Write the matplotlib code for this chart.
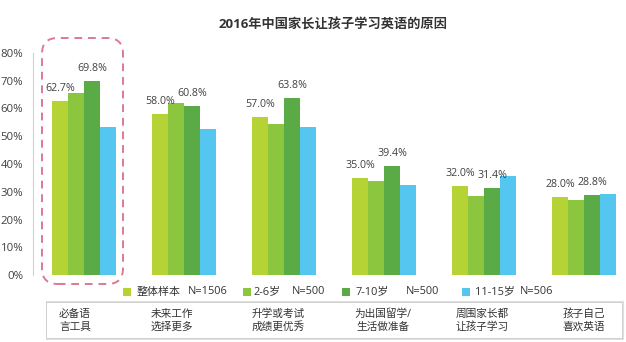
import matplotlib
matplotlib.use("Agg")
import matplotlib.pyplot as plt
from matplotlib.patches import Rectangle, FancyBboxPatch
import numpy as np

plt.rcParams['font.family'] = ['Open Sans', 'Noto Sans CJK SC', 'DejaVu Sans']

title = "2016年中国家长让孩子学习英语的原因"
categories = ["必备语\n言工具", "未来工作\n选择更多", "升学或考试\n成绩更优秀",
              "为出国留学/\n生活做准备", "周围家长都\n让孩子学习", "孩子自己\n喜欢英语"]
series_names = ["整体样本", "2-6岁", "7-10岁", "11-15岁"]
series_n = ["N=1506", "N=500", "N=500", "N=506"]
total = [62.7, 58.0, 57.0, 35.0, 32.0, 28.0]
age_2_6 = [65.6, 62.0, 54.4, 33.9, 28.5, 27.0]
age_7_10 = [69.8, 60.8, 63.8, 39.4, 31.4, 28.8]
age_11_15 = [53.3, 52.6, 53.3, 32.4, 35.7, 29.2]
labeled_series = [0, 2]
yticks = [0, 10, 20, 30, 40, 50, 60, 70, 80]

series = [total, age_2_6, age_7_10, age_11_15]
colors = ["#b5d334", "#8cc63f", "#5aab46", "#55c6f0"]

W, H = 626, 342
fig = plt.figure(figsize=(W / 100, H / 100), dpi=100)

def fx(x):
    return x / W

def fy(y):
    return 1 - y / H

ax = fig.add_axes([fx(33), fy(275), fx(626) - fx(33), fy(53) - fy(275)])
x = np.arange(len(categories))
offsets = [-0.24, -0.08, 0.08, 0.24]
for i, vals in enumerate(series):
    bars = ax.bar(x + offsets[i], vals, width=0.16, color=colors[i], linewidth=0)
    if i in labeled_series:
        for b, v in zip(bars, vals):
            ax.annotate(f"{v:.1f}%", (b.get_x() + b.get_width() / 2, v),
                        xytext=(0, 5), textcoords="offset points",
                        ha="center", va="bottom", fontsize=7.7, color="#404040")

ax.set_xlim(-0.51, 5.42)
ax.set_ylim(0, 80)
ax.set_yticks(yticks)
ax.set_yticklabels([f"{t}%" for t in yticks], fontsize=8.2, color="#404040")
ax.tick_params(axis="y", length=0, pad=7)
ax.set_xticks([])
for s in ["top", "right", "bottom"]:
    ax.spines[s].set_visible(False)
ax.spines["left"].set_color("#d0d0d0")
ax.spines["left"].set_linewidth(0.8)
ax.set_facecolor("none")

# title
fig.text(fx(333), fy(25), title, ha="center", va="center", fontsize=9.5,
         fontweight="bold", color="#333333")

# dashed highlight box
hl = FancyBboxPatch((fx(42), fy(284)), fx(123) - fx(42), fy(38) - fy(284),
                    boxstyle="round,pad=0,rounding_size=0.025",
                    transform=fig.transFigure, fill=False, edgecolor="#dc7a92",
                    linewidth=1.4, linestyle=(0, (4, 3)), mutation_aspect=W / H)
fig.add_artist(hl)

# legend
sq_x = [123, 243, 342, 462]
name_x = [137, 254, 355, 475]
n_x = [188, 292, 406, 520]
ly = 292
for i in range(len(series_names)):
    fig.add_artist(Rectangle((fx(sq_x[i]), fy(ly + 4)), fx(8), 8 / H,
                             transform=fig.transFigure, color=colors[i], linewidth=0))
    fig.text(fx(name_x[i]), fy(ly), series_names[i], ha="left", va="center",
             fontsize=7.9, color="#333333")
    fig.text(fx(n_x[i]), fy(ly), series_n[i], ha="left", va="center",
             fontsize=7.9, color="#333333")

# category box
fig.add_artist(Rectangle((fx(47), fy(339)), fx(623) - fx(47), fy(302) - fy(339),
                         transform=fig.transFigure, fill=False,
                         edgecolor="#e0e0e0", linewidth=1.5))
fig.add_artist(Rectangle((fx(46), fy(338)), fx(622) - fx(46), fy(302) - fy(338),
                         transform=fig.transFigure, facecolor="white",
                         edgecolor="#d0d0d0", linewidth=0.7))
label_shift = [-9, -12, -6, -1, -2, 0]
for i, c in enumerate(categories):
    cx = 84 + 100 * i + label_shift[i]
    fig.text(fx(cx), fy(321), c, ha="center", va="center", fontsize=7.7,
             color="#333333", linespacing=1.2)

fig.savefig("out.png", dpi=100)
